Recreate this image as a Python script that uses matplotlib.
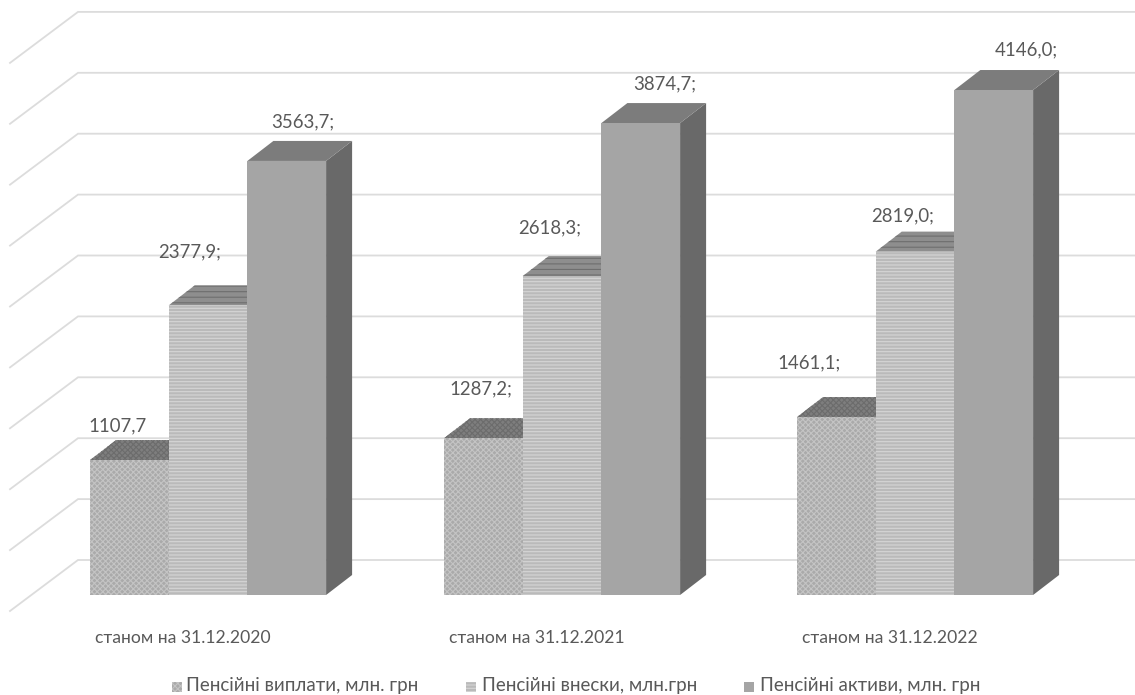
import matplotlib.pyplot as plt
import matplotlib as mpl
from matplotlib.patches import Polygon, Rectangle

plt.rcParams['font.family'] = ['Lato', 'DejaVu Sans']
mpl.rcParams['hatch.linewidth'] = 0.8

categories = ['станом на 31.12.2020', 'станом на 31.12.2021', 'станом на 31.12.2022']
series_names = ['Пенсійні виплати, млн. грн', 'Пенсійні внески, млн.грн', 'Пенсійні активи, млн. грн']
payments = [1107.7, 1287.2, 1461.1]
contributions = [2377.9, 2618.3, 2819.0]
assets = [3563.7, 3874.7, 4146.0]
value_labels = [
    ['1107,7', '1287,2;', '1461,1;'],
    ['2377,9;', '2618,3;', '2819,0;'],
    ['3563,7;', '3874,7;', '4146,0;'],
]
grid_values = [0, 500, 1000, 1500, 2000, 2500, 3000, 3500, 4000, 4500]

W, H = 1135, 695
PX = 0.1218  # pixels per one mln
FLOOR = 595

fig = plt.figure(figsize=(W / 100, H / 100), dpi=100)
ax = fig.add_axes([0, 0, 1, 1])
ax.set_xlim(0, W)
# y axis is in value units, zero sits on the front edge of the bars
ax.set_ylim((FLOOR - H) / PX, FLOOR / PX)
ax.axis('off')

# back wall grid with the slanted side wall part
for v in grid_values:
    ax.plot([10, 78, W], [v - 16 / PX, v + 35 / PX, v + 35 / PX],
            color='#dcdcdc', lw=1.3, zorder=1, solid_joinstyle='miter')

group_left = [90, 444, 797]
bar_w = 78.7
dx, dy = 26, 20 / PX
styles = [
    dict(fc='#aaaaaa', ec='#c4c4c4', hatch='xxxxxx',
         top='#7e7e7e', top_ec='#6c6c6c', top_hatch='xxxxxx', side='#7d7d7d'),
    dict(fc='#bababa', ec='#d6d6d6', hatch='-----',
         top='#8e8e8e', top_ec='#6e6e6e', top_hatch='---', side='#8a8a8a'),
    dict(fc='#a5a5a5', ec='#a5a5a5', hatch=None,
         top='#7c7c7c', top_ec='#7c7c7c', top_hatch=None, side='#696969'),
]

label_pos = [
    [(118, 426), (481, 389), (809, 363)],
    [(190, 252), (550, 228), (903, 216)],
    [(303, 122), (665, 84), (1026, 50)],
]

for s, values in enumerate([payments, contributions, assets]):
    st = styles[s]
    for g, v in enumerate(values):
        x0 = group_left[g] + s * bar_w
        x1 = x0 + bar_w
        ax.add_patch(Polygon([(x1, 0), (x1 + dx, dy), (x1 + dx, v + dy), (x1, v)],
                             fc=st['side'], ec='none', zorder=2 + s))
        ax.add_patch(Polygon([(x0, v), (x0 + dx, v + dy), (x1 + dx, v + dy), (x1, v)],
                             fc=st['top'], ec=st['top_ec'], hatch=st['top_hatch'], lw=0, zorder=2 + s))
        ax.add_patch(Rectangle((x0, 0), bar_w, v, fc=st['fc'], ec=st['ec'],
                               hatch=st['hatch'], lw=0, zorder=3 + s))
        lx, ly = label_pos[s][g]
        ax.text(lx, (FLOOR - ly) / PX, value_labels[s][g], ha='center', va='center',
                fontsize=13.4, color='#595959', zorder=10)

for c, cx in zip(categories, [95, 449, 802]):
    ax.text(cx, (FLOOR - 638) / PX, c, ha='left', va='center', fontsize=12.6, color='#595959')

# legend row, swatches follow the bar fills
for name, st, sx, tx in zip(series_names, styles, [172, 466, 744], [186, 482, 760]):
    ax.add_patch(Rectangle((sx, (FLOOR - 692) / PX), 10, 10 / PX, fc=st['fc'], ec=st['ec'],
                           hatch=st['hatch'], lw=0))
    ax.text(tx, (FLOOR - 686) / PX, name, ha='left', va='center', fontsize=13.5, color='#595959')

fig.savefig('out.png', dpi=100)
